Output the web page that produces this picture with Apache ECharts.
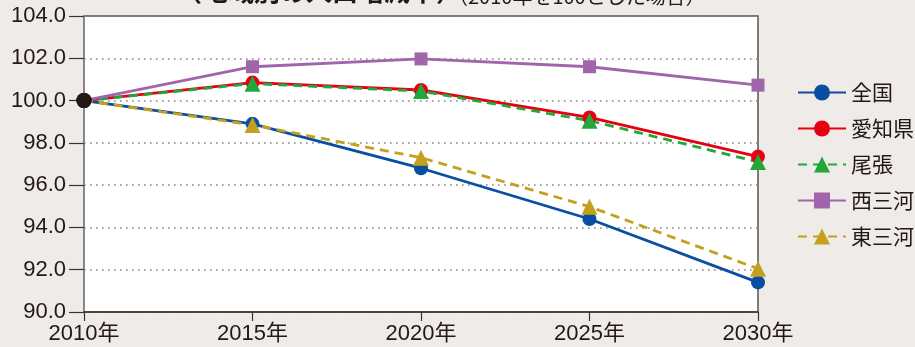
<!DOCTYPE html>
<html>
<head>
<meta charset="utf-8">
<style>
  html, body { margin: 0; padding: 0; background: #eeebe8; }
  #chart { width: 915px; height: 347px; }
</style>
<script src="https://cdn.jsdelivr.net/npm/echarts@6/dist/echarts.min.js"></script>
</head>
<body>
<div id="chart"></div>
<script>
// Population index by region (2010 = 100)
const years = ['2010年', '2015年', '2020年', '2025年', '2030年'];
const zenkoku   = [100, 98.9, 96.8, 94.4, 91.4];   // 全国
const aichi     = [100, 100.85, 100.5, 99.2, 97.35]; // 愛知県
const owari     = [100, 100.8, 100.45, 99.05, 97.1]; // 尾張
const nishimikawa = [100, 101.6, 101.97, 101.6, 100.73]; // 西三河
const higashimikawa = [100, 98.85, 97.3, 94.98, 92.05]; // 東三河
const yTicks = { min: 90, max: 104, step: 2 };

const FONT = '"Liberation Sans", "Noto Sans CJK JP", sans-serif';
const INK = '#231815';

// base year marker drawn in dark ink on every series
function withBase(arr) {
  return arr.map((v, i) => i === 0
    ? { value: v, symbol: 'circle', symbolSize: 15, itemStyle: { color: INK, borderWidth: 0 } }
    : v);
}

function lineSeries(name, data, color, symbol, size, dashed) {
  return {
    name, type: 'line', data: withBase(data),
    symbol, symbolSize: size, showSymbol: true,
    lineStyle: { color, width: 2.8, type: dashed ? [9, 6] : 'solid' },
    itemStyle: { color, borderWidth: 0 },
    emphasis: { disabled: true },
    animation: false
  };
}

const chart = echarts.init(document.getElementById('chart'), null, { renderer: 'canvas' });
chart.setOption({
  backgroundColor: '#eeebe8',
  textStyle: { fontFamily: FONT },
  graphic: [
    { type: 'text', left: 176, top: -22, style: { text: '（地域別の人口増減率）', font: 'bold 26px "Noto Sans CJK JP"', fill: INK } },
    { type: 'text', left: 448, top: -14, style: { text: '（2010年を100とした場合）', font: '20px "Noto Sans CJK JP"', fill: INK } }
  ],
  grid: { left: 84, right: 157, top: 16, bottom: 35, show: true, backgroundColor: '#ffffff', borderColor: '#555', borderWidth: 1.5 },
  legend: {
    orient: 'vertical', left: 797, top: 82, itemGap: 15, padding: 0,
    itemWidth: 48, itemHeight: 20,
    textStyle: { fontSize: 21, color: INK, fontFamily: '"Noto Sans CJK JP", sans-serif', padding: [0, 0, 0, 0] },
    data: ['全国', '愛知県', '尾張', '西三河', '東三河']
  },
  xAxis: {
    type: 'category', data: years, boundaryGap: false,
    axisLine: { lineStyle: { color: '#3a3230', width: 1.5 } },
    axisTick: { show: true, length: 9, lineStyle: { color: '#3a3230', width: 1.2 } },
    axisLabel: { fontSize: 22, color: INK, margin: 11, fontFamily: FONT },
    splitLine: { show: false }
  },
  yAxis: {
    type: 'value', min: yTicks.min, max: yTicks.max, interval: yTicks.step,
    axisLine: { show: true, lineStyle: { color: '#8a8582', width: 2 } },
    axisTick: { show: true, length: 15, lineStyle: { color: '#3a3230', width: 1.2 } },
    axisLabel: { fontSize: 22, color: INK, margin: 18, fontFamily: FONT, formatter: v => v.toFixed(1) },
    splitLine: { show: true, lineStyle: { color: '#8a8582', width: 1.6, type: [1.6, 4.4] } }
  },
  series: [
    lineSeries('全国', zenkoku, '#0a4ea2', 'circle', 14, false),
    lineSeries('愛知県', aichi, '#e60012', 'circle', 14, false),
    lineSeries('尾張', owari, '#22a83a', 'triangle', 16, true),
    lineSeries('西三河', nishimikawa, '#a065aa', 'rect', 13, false),
    lineSeries('東三河', higashimikawa, '#c4a01c', 'triangle', 16, true)
  ]
});
</script>
</body>
</html>
